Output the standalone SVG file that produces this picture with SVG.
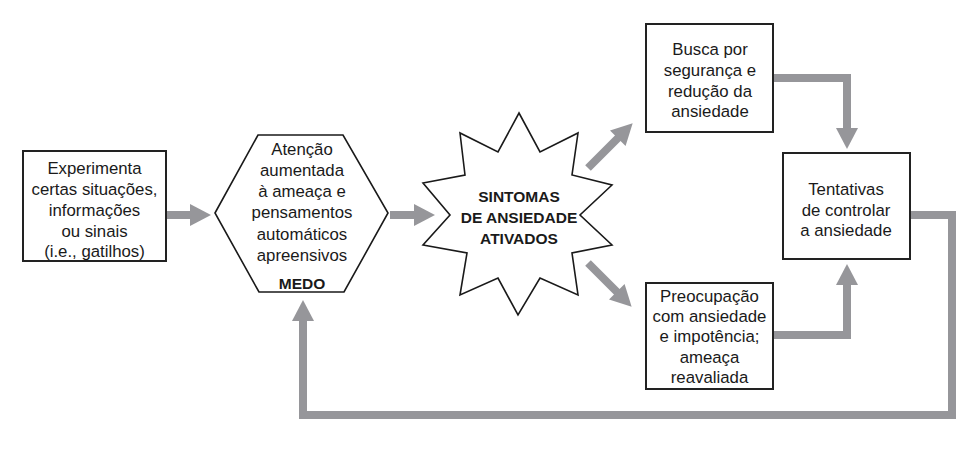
<svg xmlns="http://www.w3.org/2000/svg" width="973" height="450" viewBox="0 0 973 450">
<style>
  .box { fill: #ffffff; stroke: #222222; stroke-width: 2; }
  .shape { fill: #ffffff; stroke: #1a1a1a; stroke-width: 1.6; stroke-linejoin: miter; }
  .t { font-family: "Liberation Sans", Arial, sans-serif; font-size: 16.8px; fill: #1a1a1a; text-anchor: middle; }
  .b { font-family: "Liberation Sans", Arial, sans-serif; font-size: 15.5px; font-weight: bold; fill: #1a1a1a; text-anchor: middle; }
  .conn { fill: none; stroke: #96969a; stroke-width: 8; stroke-linejoin: miter; marker-end: url(#head); }
</style>
<defs>
  <marker id="head" markerUnits="userSpaceOnUse" markerWidth="22" markerHeight="24" viewBox="0 -12 22 24" refX="1" refY="0" orient="auto" overflow="visible">
    <path d="M0,-11 L21,0 L0,11 Z" fill="#96969a"/>
  </marker>
</defs>
<rect width="973" height="450" fill="#ffffff"/>

<g id="connectors">
  <line class="conn" x1="167" y1="215" x2="191" y2="215"/>
  <line class="conn" x1="390" y1="215" x2="415" y2="215"/>
  <line class="conn" x1="588" y1="168" x2="618.5" y2="137.5"/>
  <line class="conn" x1="588" y1="263" x2="617.5" y2="292.5"/>
  <polyline class="conn" points="773,78 847,78 847,129"/>
  <polyline class="conn" points="773,335 847,335 847,284"/>
  <polyline class="conn" points="910,215 952,215 952,415 303,415 303,320"/>
</g>

<g id="node-gatilhos">
  <rect class="box" x="23" y="151" width="143" height="110"/>
  <text class="t" x="94.5" y="174">Experimenta</text>
  <text class="t" x="94.5" y="195">certas situações,</text>
  <text class="t" x="94.5" y="216">informações</text>
  <text class="t" x="94.5" y="236.5">ou sinais</text>
  <text class="t" x="94.5" y="257">(i.e., gatilhos)</text>
</g>

<g id="node-medo">
  <polygon class="shape" points="215,213 258,135 343,135 388,213 344,292 259,292"/>
  <text class="t" x="302" y="155">Atenção</text>
  <text class="t" x="302" y="176">aumentada</text>
  <text class="t" x="302" y="197">à ameaça e</text>
  <text class="t" x="302" y="218">pensamentos</text>
  <text class="t" x="302" y="240">automáticos</text>
  <text class="t" x="302" y="261">apreensivos</text>
  <text class="b" x="302" y="289">MEDO</text>
</g>

<g id="node-sintomas">
  <polygon class="shape" points="519,113 540,152 578,133 572,175 612,185 580,215 612,245 572,253 578,295 540,278 518,315 498,278 460,295 467,253 423,245 450,215 423,183 465,175 460,133 498,152"/>
  <text class="b" x="519" y="202">SINTOMAS</text>
  <text class="b" x="519" y="223">DE ANSIEDADE</text>
  <text class="b" x="519" y="244">ATIVADOS</text>
</g>

<g id="node-busca">
  <rect class="box" x="646" y="24" width="127" height="108"/>
  <text class="t" x="710" y="55">Busca por</text>
  <text class="t" x="710" y="76">segurança e</text>
  <text class="t" x="710" y="97">redução da</text>
  <text class="t" x="710" y="117">ansiedade</text>
</g>

<g id="node-tentativas">
  <rect class="box" x="783" y="153" width="127" height="106"/>
  <text class="t" x="846" y="195">Tentativas</text>
  <text class="t" x="846" y="216">de controlar</text>
  <text class="t" x="846" y="236">a ansiedade</text>
</g>

<g id="node-preocupacao">
  <rect class="box" x="646" y="283" width="127" height="106"/>
  <text class="t" x="709.5" y="302">Preocupação</text>
  <text class="t" x="709.5" y="322">com ansiedade</text>
  <text class="t" x="709.5" y="342">e impotência;</text>
  <text class="t" x="709.5" y="363">ameaça</text>
  <text class="t" x="709.5" y="383">reavaliada</text>
</g>
</svg>
